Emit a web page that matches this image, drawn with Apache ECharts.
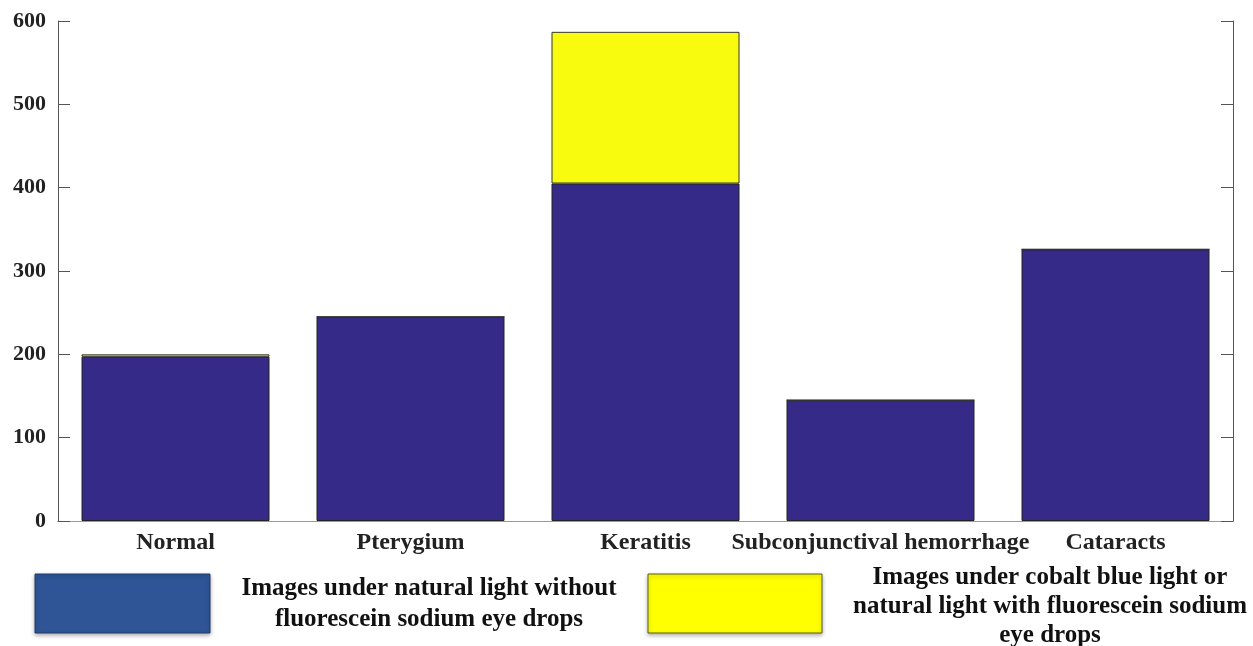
<!DOCTYPE html>
<html>
<head>
<meta charset="utf-8">
<script src="https://cdn.jsdelivr.net/npm/echarts@6/dist/echarts.min.js"></script>
<style>html,body{margin:0;padding:0;background:#fff;}#c{width:1253px;height:646px;}</style>
</head>
<body>
<div id="c"></div>
<script>
const categories = ['Normal', 'Pterygium', 'Keratitis', 'Subconjunctival hemorrhage', 'Cataracts'];
const naturalLight = [197, 245, 405, 145, 326];
const fluorescein = [3, 0, 182, 0, 0];
const yTicks = [0, 100, 200, 300, 400, 500, 600];
const legendNames = ['Images under natural light without\nfluorescein sodium eye drops',
  'Images under cobalt blue light or\nnatural light with fluorescein sodium\neye drops'];

const font = '"Liberation Serif", "Times New Roman", serif';
const axisColor = '#555';
const chart = echarts.init(document.getElementById('c'));
chart.setOption({
  animation: false,
  backgroundColor: '#fff',
  grid: { left: 58, right: 20, top: 21, bottom: 125 },
  xAxis: [
    {
      type: 'category', data: categories, position: 'bottom',
      axisLine: { lineStyle: { color: axisColor, width: 1 } },
      axisTick: { inside: true, alignWithLabel: true, length: 12, lineStyle: { color: axisColor } },
      axisLabel: { fontFamily: font, fontWeight: 'bold', fontSize: 24, color: '#222', margin: 10, interval: 0 }
    },
    {
      type: 'category', data: categories, position: 'top',
      axisLine: { lineStyle: { color: '#999', width: 1 } },
      axisTick: { inside: true, alignWithLabel: true, length: 12, lineStyle: { color: axisColor } },
      axisLabel: { show: false }
    }
  ],
  yAxis: [
    {
      type: 'value', min: yTicks[0], max: yTicks[yTicks.length - 1], interval: 100, position: 'left',
      splitLine: { show: false },
      axisLine: { show: true, lineStyle: { color: axisColor, width: 1 } },
      axisTick: { show: true, inside: true, length: 12, lineStyle: { color: axisColor } },
      axisLabel: { fontFamily: font, fontWeight: 'bold', fontSize: 22, color: '#222', margin: 12 }
    },
    {
      type: 'value', min: yTicks[0], max: yTicks[yTicks.length - 1], interval: 100, position: 'right',
      splitLine: { show: false },
      axisLine: { show: true, lineStyle: { color: axisColor, width: 1 } },
      axisTick: { show: true, inside: true, length: 12, lineStyle: { color: axisColor } },
      axisLabel: { show: false }
    }
  ],
  series: [
    {
      type: 'bar', stack: 'a', data: naturalLight, barWidth: '80%',
      itemStyle: { color: '#352a87', borderColor: '#222', borderWidth: 1 }
    },
    {
      type: 'bar', stack: 'a', data: fluorescein, barWidth: '80%',
      itemStyle: { color: '#f9fb0e', borderColor: '#333', borderWidth: 1 }
    }
  ],
  graphic: [
    { type: 'rect', shape: { x: 35, y: 574, width: 175, height: 59 },
      style: { fill: '#2f5597', stroke: '#223a6a', lineWidth: 1, shadowBlur: 4, shadowOffsetY: 2, shadowColor: 'rgba(0,0,0,0.3)' } },
    { type: 'text', x: 429, y: 604,
      style: { text: legendNames[0], fontFamily: font, fontWeight: 'bold', fontSize: 25, fill: '#111',
        align: 'center', verticalAlign: 'middle', lineHeight: 31 } },
    { type: 'rect', shape: { x: 648, y: 574, width: 174, height: 59 },
      style: { fill: '#ffff00', stroke: '#5a5a20', lineWidth: 1, shadowBlur: 4, shadowOffsetY: 2, shadowColor: 'rgba(0,0,0,0.3)' } },
    { type: 'text', x: 1050, y: 607,
      style: { text: legendNames[1], fontFamily: font, fontWeight: 'bold', fontSize: 25, fill: '#111',
        align: 'center', verticalAlign: 'middle', lineHeight: 29 } }
  ]
});
</script>
</body>
</html>
